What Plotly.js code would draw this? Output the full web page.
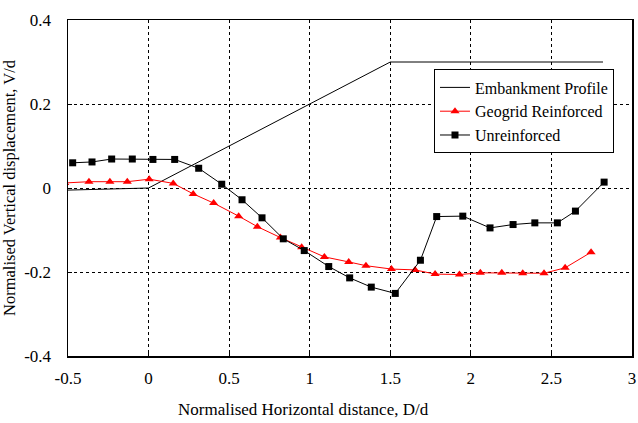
<!DOCTYPE html>
<html>
<head>
<meta charset="utf-8">
<script src="https://cdn.plot.ly/plotly-3.0.1.min.js"></script>
<style>html,body{margin:0;padding:0;background:#fff;}#chart{width:638px;height:423px;}</style>
</head>
<body>
<div id="chart"></div>
<script>
// Embankment profile
const embX = [-0.5, 0, 1.5, 2.82];
const embY = [-0.005, 0, 0.3, 0.3];

// Geogrid Reinforced
const geoX = [-0.52, -0.370, -0.240, -0.132, 0.004, 0.153, 0.277, 0.404, 0.559, 0.675, 0.818, 0.950, 1.091, 1.242, 1.349, 1.507, 1.654, 1.778, 1.929, 2.059, 2.192, 2.322, 2.454, 2.585, 2.746];
const geoY = [0.012, 0.015, 0.015, 0.015, 0.021, 0.011, -0.014, -0.036, -0.067, -0.092, -0.118, -0.141, -0.164, -0.176, -0.185, -0.193, -0.195, -0.205, -0.206, -0.202, -0.202, -0.203, -0.203, -0.190, -0.153];

// Unreinforced
const unrX = [-0.471, -0.351, -0.229, -0.101, 0.027, 0.162, 0.311, 0.454, 0.580, 0.704, 0.836, 0.966, 1.118, 1.248, 1.382, 1.531, 1.687, 1.788, 1.950, 2.119, 2.262, 2.397, 2.537, 2.649, 2.827];
const unrY = [0.060, 0.062, 0.069, 0.069, 0.068, 0.068, 0.047, 0.009, -0.028, -0.071, -0.121, -0.149, -0.187, -0.214, -0.236, -0.251, -0.172, -0.068, -0.067, -0.095, -0.087, -0.083, -0.083, -0.055, 0.014];

const xTicks = [-0.5, 0, 0.5, 1, 1.5, 2, 2.5, 3];
const xTickText = ['-0.5', '0', '0.5', '1', '1.5', '2', '2.5', '3'];
const yTicks = [-0.4, -0.2, 0, 0.2, 0.4];
const yTickText = ['-0.4', '-0.2', '0', '0.2', '0.4'];
const xTitle = 'Normalised Horizontal distance, D/d';
const yTitle = 'Normalised Vertical displacement, V/d';

const font = "Liberation Serif, Times New Roman, serif";

const traces = [
  {x: embX, y: embY, mode: 'lines', name: 'Embankment Profile',
   line: {color: '#000', width: 1}},
  {x: geoX, y: geoY, mode: 'lines+markers', name: 'Geogrid Reinforced',
   line: {color: '#ff0000', width: 1}, marker: {symbol: 'triangle-up', size: 8, color: '#ff0000'}},
  {x: unrX, y: unrY, mode: 'lines+markers', name: 'Unreinforced',
   line: {color: '#000', width: 1}, marker: {symbol: 'square', size: 7, color: '#000'}}
];

const layout = {
  width: 638, height: 423,
  margin: {l: 68, r: 6, t: 20, b: 67},
  paper_bgcolor: '#fff', plot_bgcolor: '#fff',
  font: {family: font, size: 17, color: '#000'},
  showlegend: true,
  legend: {x: 0.8085, y: 0.7277, xanchor: 'center', yanchor: 'middle',
           bordercolor: '#000', borderwidth: 1, bgcolor: '#fff',
           font: {family: font, size: 16, color: '#000'},
           tracegroupgap: 0, itemwidth: 30},
  xaxis: {range: [-0.5, 3], tickvals: xTicks, ticktext: xTickText,
          showgrid: true, gridcolor: '#000', griddash: '3px,3px', gridwidth: 1,
          zeroline: false, showline: true, linecolor: '#000', linewidth: 1.5, mirror: true,
          ticks: 'inside', ticklen: 4, tickcolor: '#000', ticklabelstandoff: 6,
          tickfont: {family: font, size: 17}},
  yaxis: {range: [-0.4, 0.4], tickvals: yTicks, ticktext: yTickText,
          showgrid: true, gridcolor: '#000', griddash: '3px,3px', gridwidth: 1,
          zeroline: false, showline: true, linecolor: '#000', linewidth: 1.5, mirror: true,
          ticks: 'inside', ticklen: 4, tickcolor: '#000', ticklabelstandoff: 12,
          tickfont: {family: font, size: 17},
          title: {text: yTitle, font: {family: font, size: 16.5}, standoff: 8}},
  annotations: [
    {text: xTitle, xref: 'paper', yref: 'paper', x: 0.4167, y: -0.1607,
     xanchor: 'center', yanchor: 'middle', showarrow: false,
     font: {family: font, size: 17, color: '#000'}}
  ]
};

Plotly.newPlot('chart', traces, layout, {displayModeBar: false, staticPlot: true});
</script>
</body>
</html>
